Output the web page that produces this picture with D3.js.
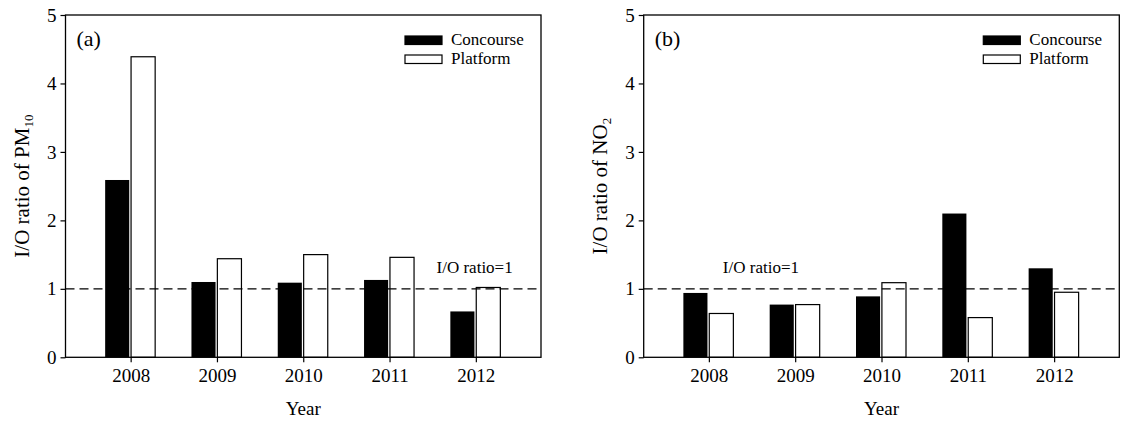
<!DOCTYPE html>
<html>
<head>
<meta charset="utf-8">
<script src="https://cdn.jsdelivr.net/npm/d3@7"></script>
<style>
  body { margin: 0; background: #fff; }
  svg { display: block; font-family: "Liberation Serif", "Times New Roman", serif; }
</style>
</head>
<body>
<svg width="1125" height="424"></svg>
<script>
// Data
const years = ["2008", "2009", "2010", "2011", "2012"];
const series = ["Concourse", "Platform"];
const pm10Concourse = [2.59, 1.10, 1.09, 1.13, 0.67];
const pm10Platform = [4.39, 1.44, 1.50, 1.46, 1.02];
const no2Concourse = [0.94, 0.77, 0.89, 2.10, 1.30];
const no2Platform = [0.64, 0.77, 1.09, 0.58, 0.95];
const yTicks = [0, 1, 2, 3, 4, 5];
const refValue = 1;

const svg = d3.select("svg");
const plotTop = 15, plotBottom = 357.3;

const yScale = d3.scaleLinear()
    .domain([0, 5])
    .range([plotBottom, plotTop]);

function drawPanel(x0, x1, tag, pollutant, sub, concourse, platform, refYear, refDx) {
    const g = svg.append("g");

    const xScale = d3.scalePoint()
        .domain(years)
        .range([x0, x1])
        .padding(0.755);

    const inner = d3.scaleBand()
        .domain(series)
        .range([-25.5, 24.5])
        .paddingInner(0.07);

    const rows = years.map((y, i) => ({ year: y, Concourse: concourse[i], Platform: platform[i] }));

    // bars
    g.selectAll("g.year")
        .data(rows)
        .enter()
        .append("g")
        .attr("transform", d => `translate(${xScale(d.year)},0)`)
        .selectAll("rect")
        .data(d => series.map(s => ({ key: s, value: d[s] })))
        .enter()
        .append("rect")
        .attr("x", d => inner(d.key))
        .attr("width", inner.bandwidth())
        .attr("y", d => yScale(d.value))
        .attr("height", d => yScale(0) - yScale(d.value))
        .attr("fill", d => d.key === "Concourse" ? "#000" : "#fff")
        .attr("stroke", "#000")
        .attr("stroke-width", d => d.key === "Concourse" ? 0 : 1.2);

    // I/O ratio = 1 reference line
    g.append("line")
        .attr("x1", x0)
        .attr("x2", x1)
        .attr("y1", yScale(refValue))
        .attr("y2", yScale(refValue))
        .attr("stroke", "#000")
        .attr("stroke-width", 1.2)
        .attr("stroke-dasharray", "9,5");

    g.append("text")
        .attr("x", xScale(refYear) + refDx)
        .attr("y", yScale(refValue) - 16)
        .attr("font-size", 17)
        .text("I/O ratio=1");

    // axes
    const yAxis = d3.axisLeft(yScale).tickValues(yTicks).tickFormat(d3.format("d"))
        .tickSize(5).tickPadding(4);
    const xAxis = d3.axisBottom(xScale).tickSize(5).tickPadding(6);

    const ya = g.append("g")
        .attr("transform", `translate(${x0},0)`)
        .call(yAxis);
    const xa = g.append("g")
        .attr("transform", `translate(0,${plotBottom})`)
        .call(xAxis);
    [ya, xa].forEach(a => {
        a.select(".domain").remove();
        a.selectAll("line").attr("stroke-width", 1.2);
        a.selectAll("text")
            .attr("font-size", 19)
            .attr("font-family", "Liberation Serif")
            .attr("fill", "#000");
    });

    // frame
    g.append("rect")
        .attr("x", x0)
        .attr("y", plotTop)
        .attr("width", x1 - x0)
        .attr("height", plotBottom - plotTop)
        .attr("fill", "none")
        .attr("stroke", "#000")
        .attr("stroke-width", 1.3);

    // panel tag
    g.append("text")
        .attr("x", x0 + 11)
        .attr("y", plotTop + 31)
        .attr("font-size", 22)
        .text(tag);

    // legend
    const lg = g.append("g").attr("transform", `translate(${x1 - 136},${plotTop + 21})`);
    series.forEach((s, i) => {
        lg.append("rect")
            .attr("x", 0)
            .attr("y", i * 19)
            .attr("width", 37)
            .attr("height", 8.5)
            .attr("fill", s === "Concourse" ? "#000" : "#fff")
            .attr("stroke", "#000")
            .attr("stroke-width", 1.2);
        lg.append("text")
            .attr("x", 46)
            .attr("y", i * 19 + 9)
            .attr("font-size", 17)
            .text(s);
    });

    // axis titles
    g.append("text")
        .attr("x", (x0 + x1) / 2)
        .attr("y", 415)
        .attr("text-anchor", "middle")
        .attr("font-size", 19)
        .text("Year");

    const yt = g.append("text")
        .attr("transform", `translate(${x0 - 37},${(plotTop + plotBottom) / 2}) rotate(-90)`)
        .attr("text-anchor", "middle")
        .attr("font-size", 21);
    yt.append("tspan").text("I/O ratio of " + pollutant);
    yt.append("tspan").attr("font-size", 13).attr("dy", 4).text(sub);
}

drawPanel(65.5, 541, "(a)", "PM", "10", pm10Concourse, pm10Platform, "2011", 47);
drawPanel(643.7, 1119.3, "(b)", "NO", "2", no2Concourse, no2Platform, "2008", 14);
</script>
</body>
</html>
